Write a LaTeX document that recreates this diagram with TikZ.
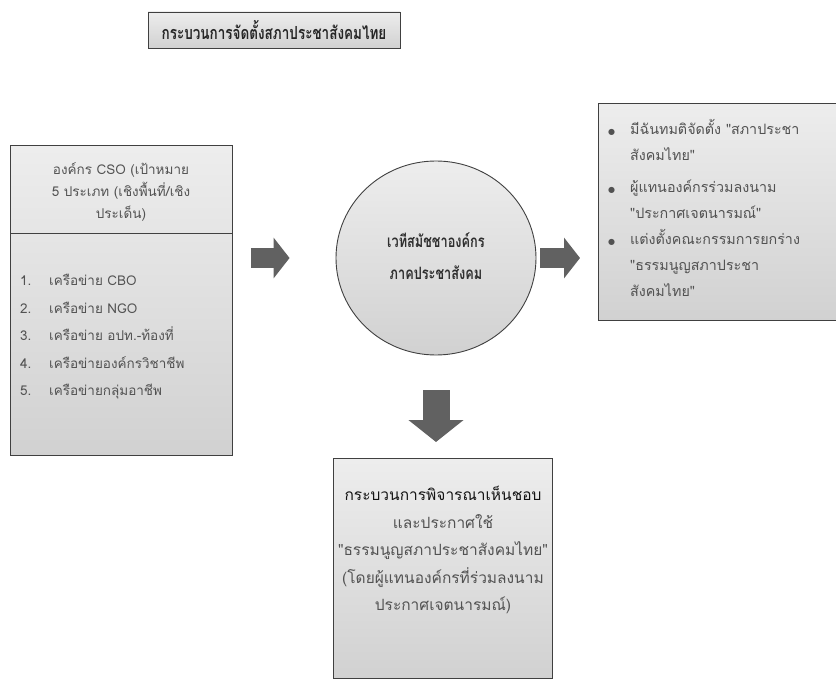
\documentclass[tikz,border=0pt]{standalone}
\usepackage{fontspec}
\newfontfamily\thai[Script=Thai]{Loma}
\newfontfamily\thaicond[Script=Thai,FakeStretch=0.75]{Loma}
\newfontfamily\dvs{DejaVu Sans}
\usetikzlibrary{arrows.meta,shapes.geometric}
\begin{document}
\begin{tikzpicture}[x=1pt,y=-1pt,
  box/.style={draw=black!75, line width=0.9pt, top color=gray!14, bottom color=gray!36},
  txt/.style={font=\thai\fontsize{13.5}{22}\selectfont, text=black!68, inner sep=0pt},
  blockarrow/.style={line width=20pt, draw=black!62, -{Triangle[width=40pt,length=16pt]}}]
\useasboundingbox (0,0) rectangle (836,679);
\clip (0,0) rectangle (836,679);
\fill[white] (0,0) rectangle (836,679);
% title
\node[box, line width=0.6pt, minimum width=252pt, minimum height=36pt] (title) at (274,30) {};
\node[font=\thaicond\bfseries\fontsize{18}{20}\selectfont, text=black!85, inner sep=0pt] (titletext) at (title.center) {กระบวนการจัดตั้งสภาประชาสังคมไทย};
% left box
\node[box, anchor=north west, minimum width=222pt, minimum height=310pt] (left) at (10,145) {};
\coordinate (divy) at (0,233);
\draw[black!75, line width=0.9pt] (left.west |- divy) -- (left.east |- divy);
\node[txt, align=center] (lefttop) at (121,192) {องค์กร CSO (เป้าหมาย\\5 ประเภท (เชิงพื้นที่/เชิง\\ประเด็น)};
\node[txt, align=left, anchor=west, font=\thai\fontsize{13.5}{27.5}\selectfont] (leftlist) at (20,337) {%
\makebox[29pt][l]{1.}เครือข่าย CBO\\
\makebox[29pt][l]{2.}เครือข่าย NGO\\
\makebox[29pt][l]{3.}เครือข่าย อปท.-ท้องที่\\
\makebox[29pt][l]{4.}เครือข่ายองค์กรวิชาชีพ\\
\makebox[29pt][l]{5.}เครือข่ายกลุ่มอาชีพ};
% ellipse
\node[ellipse, box, minimum width=200pt, minimum height=194pt] (ell) at (436,258) {};
\node[txt, align=center, text=black!82, font=\thaicond\bfseries\fontsize{17}{32}\selectfont] (elltext) at (436,256) {เวทีสมัชชาองค์กร\\ภาคประชาสังคม};
% right box
\node[box, anchor=north west, minimum width=260pt, minimum height=217pt] (right) at (598,103) {};
\node[txt, align=left, anchor=north west, font=\thai\fontsize{14.3}{26}\selectfont] (righttext) at (608,119) {%
\makebox[22pt][l]{\dvs\fontsize{8}{10}\selectfont ●}มีฉันทมติจัดตั้ง "สภาประชา\\
\hspace*{22pt}สังคมไทย"\\[6pt]
\makebox[22pt][l]{\dvs\fontsize{8}{10}\selectfont ●}ผู้แทนองค์กรร่วมลงนาม\\
\hspace*{22pt}"ประกาศเจตนารมณ์"\\
\makebox[22pt][l]{\dvs\fontsize{8}{10}\selectfont ●}แต่งตั้งคณะกรรมการยกร่าง\\
\hspace*{22pt}"ธรรมนูญสภาประชา\\
\hspace*{22pt}สังคมไทย"};
% bottom box
\node[box, anchor=north west, minimum width=219pt, minimum height=220pt] (bottom) at (333,458) {};
\node[txt, align=center, font=\thai\fontsize{15.5}{27.5}\selectfont] (bottomtext) at (443,550) {%
{\color{black!92}กระบวนการพิจารณาเห็นชอบ}\\
และประกาศใช้\\
"ธรรมนูญสภาประชาสังคมไทย"\\
(โดยผู้แทนองค์กรที่ร่วมลงนาม\\
ประกาศเจตนารมณ์)};
% block arrows
\draw[blockarrow, shorten <=18pt, shorten >=46pt] (left.east |- ell.center) -- (ell.west);
\draw[blockarrow, shorten <=4pt, shorten >=18pt] (ell.east) -- (right.west |- ell.center);
\draw[blockarrow, line width=27pt, -{Triangle[width=54pt,length=22pt]}, shorten <=35pt, shorten >=16pt] (ell.south) -- (bottom.north -| ell.south);
\end{tikzpicture}
\end{document}
